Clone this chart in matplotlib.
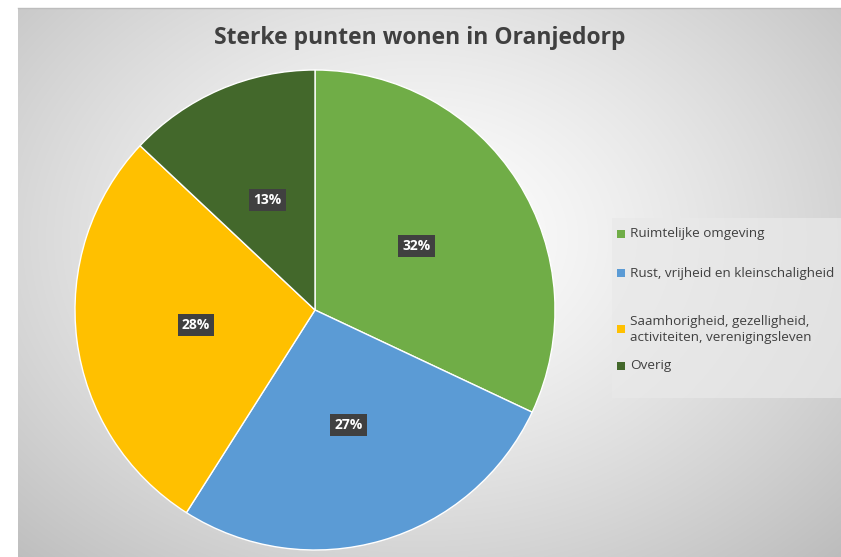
import numpy as np
import matplotlib
matplotlib.use("Agg")
import matplotlib.pyplot as plt
from matplotlib.patches import Rectangle

title = "Sterke punten wonen in Oranjedorp"
categories = ["Ruimtelijke omgeving",
              "Rust, vrijheid en kleinschaligheid",
              "Saamhorigheid, gezelligheid,\nactiviteiten, verenigingsleven",
              "Overig"]
values = [32, 27, 28, 13]
colors = ["#70AD47", "#5B9BD5", "#FFC000", "#43682B"]

W, H = 841, 557
fig = plt.figure(figsize=(W / 100, H / 100), dpi=100)
plt.rcParams['font.family'] = ['Open Sans', 'DejaVu Sans']

# background gradient panel
bg = fig.add_axes([18 / W, 0, 1 - 18 / W, 1 - 8 / H])
bg.set_axis_off()
yy, xx = np.mgrid[0:549, 0:823]
cx, cy = 400, 230
d = np.sqrt(((xx - cx) / 560.0) ** 2 + ((yy - cy) / 420.0) ** 2)
val = 1.0 - 0.24 * np.clip(d, 0, 1.3) ** 1.3
img = np.dstack([val, val, val])
bg.imshow(img, aspect='auto', extent=[0, 1, 0, 1], origin='upper')
bg.set_xlim(0, 1)
bg.set_ylim(0, 1)
fig.add_artist(plt.Line2D([18 / W, 1], [1 - 8 / H, 1 - 8 / H], color="#bdbdbd", lw=1))

# pie
R = 240
pcx, pcy = 315, 310
ax = fig.add_axes([(pcx - R) / W, 1 - (pcy + R) / H, 2 * R / W, 2 * R / H])
ax.set_axis_off()
wedges, texts, autotexts = ax.pie(
    values, colors=colors, startangle=90, counterclock=False,
    autopct=lambda p: f"{p:.0f}%", pctdistance=0.5,
    wedgeprops=dict(edgecolor="white", linewidth=1))
for t in autotexts:
    t.set_color("white")
    t.set_fontsize(10)
    t.set_fontweight("bold")
    t.set_bbox(dict(boxstyle="square,pad=0.3", facecolor="#404040", edgecolor="none"))
ax.set_xlim(-1, 1)
ax.set_ylim(-1, 1)
ax.set_aspect('auto')

# title
fig.text(420 / W, 1 - 38 / H, title, ha="center", va="center",
         fontsize=16.5, fontweight="bold", color="#404040")

# legend box
lx0, ly0, lx1, ly1 = 612, 218, 841, 398
fig.add_artist(Rectangle((lx0 / W, 1 - ly1 / H), (lx1 - lx0) / W, (ly1 - ly0) / H,
                         transform=fig.transFigure, facecolor="#e9e9e9",
                         edgecolor="none", alpha=0.7, zorder=1))
legend_y = [234, 273, 329, 366]
for lab, col, y in zip(categories, colors, legend_y):
    fig.add_artist(Rectangle((617 / W, 1 - (y + 4) / H), 8 / W, 8 / H,
                             transform=fig.transFigure, facecolor=col,
                             edgecolor="none", zorder=3))
    fig.text(630 / W, 1 - y / H, lab, ha="left", va="center", fontsize=9.7,
             color="#404040", linespacing=1.3, zorder=3)

fig.savefig("out.png", dpi=100)
